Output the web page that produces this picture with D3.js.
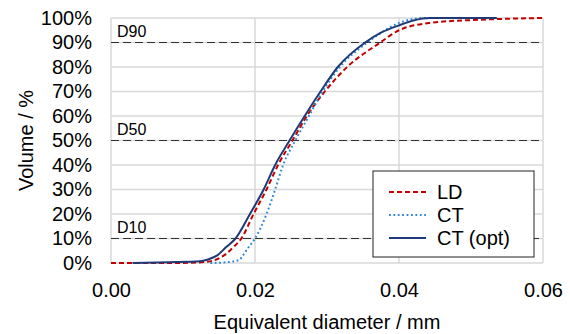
<!DOCTYPE html>
<html>
<head>
<meta charset="utf-8">
<script src="https://cdn.jsdelivr.net/npm/d3@7"></script>
<style>
  body { margin: 0; background: #fff; }
  text { font-family: "Liberation Sans", Arial, sans-serif; fill: #000; }
</style>
</head>
<body>
<svg id="chart" width="570" height="334"></svg>
<script>
/*
  Cumulative volume distribution
*/

// LD (laser diffraction)
var ldDiam = [0, 0.005, 0.009, 0.012, 0.0142, 0.0152, 0.0161, 0.017, 0.0181, 0.0198, 0.0216, 0.0232, 0.0252, 0.0272, 0.0297, 0.0328, 0.0374, 0.040, 0.0443, 0.0513, 0.060];
var ldVol  = [0, 0, 0, 0.2, 1, 2.2, 4, 6.5, 10, 20, 30, 40, 50, 60, 70, 80, 90, 95, 98, 99.3, 100];

// CT
var ctDiam = [0.0138, 0.016, 0.0178, 0.0183, 0.019, 0.0200, 0.0216, 0.0228, 0.0239, 0.0256, 0.0275, 0.0294, 0.0318, 0.0356, 0.0375, 0.040, 0.0435, 0.048];
var ctVol  = [0, 0.3, 1.2, 3, 6, 10, 20, 30, 40, 50, 60, 70, 80, 90, 94, 98, 100, 100];

// CT (opt)
var optDiam = [0.003, 0.008, 0.0124, 0.0135, 0.0147, 0.016, 0.0173, 0.0193, 0.0212, 0.0228, 0.0248, 0.0269, 0.0291, 0.0315, 0.0353, 0.0375, 0.040, 0.042, 0.0443, 0.0536];
var optVol  = [0, 0.3, 0.7, 1.5, 3, 6.5, 10, 20, 30, 40, 50, 60, 70, 80, 90, 94, 97, 99, 100, 100];

var xTicks = [0, 0.02, 0.04, 0.06],
    yTicks = [0, 0.1, 0.2, 0.3, 0.4, 0.5, 0.6, 0.7, 0.8, 0.9, 1.0],
    refLevels = [0.9, 0.5, 0.1],
    refLabels = ["D90", "D50", "D10"],
    seriesNames = ["LD", "CT", "CT (opt)"];

var margin = {top: 18, right: 27, bottom: 71, left: 111},
    width = 570 - margin.left - margin.right,
    height = 334 - margin.top - margin.bottom;

var x = d3.scaleLinear().domain([0, 0.06]).range([0, width]),
    y = d3.scaleLinear().domain([0, 1]).range([height, 0]);

var svg = d3.select("#chart")
  .append("g")
    .attr("transform", "translate(" + margin.left + "," + margin.top + ")");

// gridlines
svg.selectAll(".hgrid")
    .data(yTicks)
  .enter().append("line")
    .attr("x1", 0).attr("x2", width)
    .attr("y1", function(d) { return y(d); })
    .attr("y2", function(d) { return y(d); })
    .style("stroke", "#d9d9d9")
    .style("stroke-width", 1.5);

svg.selectAll(".vgrid")
    .data(xTicks)
  .enter().append("line")
    .attr("y1", 0).attr("y2", height)
    .attr("x1", function(d) { return x(d); })
    .attr("x2", function(d) { return x(d); })
    .style("stroke", "#d9d9d9")
    .style("stroke-width", 1.5);

// reference lines D90 / D50 / D10
refLevels.forEach(function(v, i) {
  svg.append("line")
    .attr("x1", 0).attr("x2", width)
    .attr("y1", y(v)).attr("y2", y(v))
    .style("stroke", "#333")
    .style("stroke-width", 1.2)
    .style("stroke-dasharray", "8,4");
  svg.append("text")
    .attr("x", 6)
    .attr("y", y(v) - 6)
    .style("font-size", "16px")
    .text(refLabels[i]);
});

// axes
var yAxis = svg.append("g")
    .call(d3.axisLeft(y).tickValues(yTicks).tickSize(0).tickPadding(19).tickFormat(d3.format(".0%")));
var xAxis = svg.append("g")
    .attr("transform", "translate(0," + height + ")")
    .call(d3.axisBottom(x).tickValues(xTicks).tickSize(0).tickPadding(20).tickFormat(d3.format(".2f")));

[yAxis, xAxis].forEach(function(a) {
  a.select(".domain").remove();
  a.selectAll("text")
    .style("font-family", "'Liberation Sans', Arial, sans-serif")
    .style("font-size", "20px")
    .style("fill", "#000");
});

// series
function makePoints(ds, vs) {
  return ds.map(function(d, i) { return {d: d, v: vs[i] / 100}; });
}

var line = d3.line()
    .x(function(p) { return x(p.d); })
    .y(function(p) { return y(p.v); })
    .curve(d3.curveMonotoneX);

var series = [
  {name: seriesNames[0], pts: makePoints(ldDiam, ldVol),  color: "#c00000", dash: "5,3"},
  {name: seriesNames[1], pts: makePoints(ctDiam, ctVol),  color: "#2e86d6", dash: "1.8,2.6"},
  {name: seriesNames[2], pts: makePoints(optDiam, optVol), color: "#1f3a78", dash: null}
];

series.forEach(function(s) {
  svg.append("path")
    .datum(s.pts)
    .attr("d", line)
    .style("fill", "none")
    .style("stroke", s.color)
    .style("stroke-width", 2)
    .style("stroke-dasharray", s.dash);
});

// axis titles
svg.append("text")
  .attr("x", width / 2)
  .attr("y", height + 66)
  .style("text-anchor", "middle")
  .style("font-size", "20px")
  .text("Equivalent diameter / mm");

svg.append("text")
  .attr("transform", "translate(" + (33 - margin.left) + "," + (height / 2) + ") rotate(-90)")
  .style("text-anchor", "middle")
  .style("font-size", "20px")
  .text("Volume / %");

// legend
var legend = svg.append("g")
  .attr("transform", "translate(" + (373 - margin.left) + "," + (171 - margin.top) + ")");

legend.append("rect")
  .attr("width", 161)
  .attr("height", 86)
  .style("fill", "#fff")
  .style("stroke", "#222")
  .style("stroke-width", 1);

var legendItem = legend.selectAll(".item")
    .data(series)
  .enter().append("g")
    .attr("transform", function(d, i) { return "translate(0," + (21 + i * 23) + ")"; });

legendItem.append("line")
  .attr("x1", 16).attr("x2", 53)
  .style("stroke", function(d) { return d.color; })
  .style("stroke-width", 2)
  .style("stroke-dasharray", function(d) { return d.dash; });

legendItem.append("text")
  .attr("x", 64)
  .attr("dy", "0.35em")
  .style("font-size", "20px")
  .text(function(d) { return d.name; });
</script>
</body>
</html>
